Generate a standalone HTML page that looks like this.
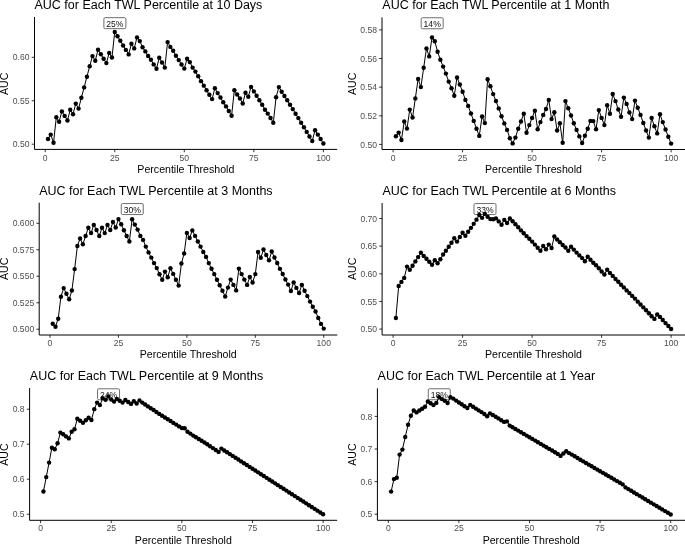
<!DOCTYPE html>
<html><head><meta charset="utf-8"><style>
html,body{margin:0;padding:0;background:#fff;}
body{width:685px;height:544px;overflow:hidden;}
svg{display:block;font-family:"Liberation Sans", sans-serif;will-change:transform;}
.ti{font-size:12.5px;fill:#000;}
.at{font-size:10.6px;fill:#000;}
.tl{font-size:8.6px;fill:#4d4d4d;}
.lt{font-size:8.6px;fill:#111;}
.tk{stroke:#333;stroke-width:1;}
.ax{stroke:#000;stroke-width:1;fill:none;}
.lb{fill:#fff;stroke:#6e6e6e;stroke-width:1;}
.ln{stroke:#000;stroke-width:1.0;fill:none;stroke-linejoin:round;}
.pt circle{fill:#000;}
</style></head><body>
<svg width="685" height="544" viewBox="0 0 685 544">
<rect width="685" height="544" fill="#fff"/>
<text x="34.5" y="9.45" class="ti">AUC for Each TWL Percentile at 10 Days</text>
<text transform="translate(7.7,83.85) rotate(-90)" class="at" text-anchor="middle">AUC</text>
<text x="185.85" y="172.6" class="at" text-anchor="middle">Percentile Threshold</text>
<line x1="31.7" x2="34.5" y1="144.2" y2="144.2" class="tk"/>
<text transform="translate(29.5,144.2) scale(1,1.08)" y="2.95" class="tl" text-anchor="end">0.50</text>
<line x1="31.7" x2="34.5" y1="100.75" y2="100.75" class="tk"/>
<text transform="translate(29.5,100.75) scale(1,1.08)" y="2.95" class="tl" text-anchor="end">0.55</text>
<line x1="31.7" x2="34.5" y1="57.3" y2="57.3" class="tk"/>
<text transform="translate(29.5,57.3) scale(1,1.08)" y="2.95" class="tl" text-anchor="end">0.60</text>
<line x1="45.19" x2="45.19" y1="149.4" y2="152.2" class="tk"/>
<text transform="translate(45.19,160.5) scale(1,1.03)" class="tl" text-anchor="middle">0</text>
<line x1="114.74" x2="114.74" y1="149.4" y2="152.2" class="tk"/>
<text transform="translate(114.74,160.5) scale(1,1.03)" class="tl" text-anchor="middle">25</text>
<line x1="184.29" x2="184.29" y1="149.4" y2="152.2" class="tk"/>
<text transform="translate(184.29,160.5) scale(1,1.03)" class="tl" text-anchor="middle">50</text>
<line x1="253.84" x2="253.84" y1="149.4" y2="152.2" class="tk"/>
<text transform="translate(253.84,160.5) scale(1,1.03)" class="tl" text-anchor="middle">75</text>
<line x1="323.39" x2="323.39" y1="149.4" y2="152.2" class="tk"/>
<text transform="translate(323.39,160.5) scale(1,1.03)" class="tl" text-anchor="middle">100</text>
<path d="M34.5,17V149.4H337.2" class="ax"/>
<rect x="103.89" y="17.65" width="22" height="11" rx="1.3" class="lb"/>
<text transform="translate(114.89,26.85) scale(1,1.08)" class="lt" text-anchor="middle">25%</text>
<path d="M47.97,139 L50.75,134.6 L53.54,142.75 L56.32,117.2 L59.1,121.8 L61.88,111.4 L64.66,115.9 L67.45,120.5 L70.23,109.8 L73.01,114.2 L75.79,103.6 L78.57,108.6 L81.36,97.8 L84.14,87.4 L86.92,76.8 L89.7,66.2 L92.48,56.1 L95.27,60.7 L98.05,49.8 L100.83,54.3 L103.61,58.8 L106.39,63.1 L109.18,52.9 L111.96,57.55 L114.74,32 L117.52,36.2 L120.3,40.8 L123.09,45.5 L125.87,49.9 L128.65,54.4 L131.43,43.8 L134.21,48.4 L137,37.4 L139.78,41.1 L142.56,47.2 L145.34,51.4 L148.12,56 L150.91,59.8 L153.69,64.4 L156.47,68.75 L159.25,57.65 L162.03,62.5 L164.82,67.6 L167.6,42.1 L170.38,46.9 L173.16,50.7 L175.94,55.7 L178.73,60.1 L181.51,64.5 L184.29,68.6 L187.07,58.8 L189.85,62.1 L192.64,67.6 L195.42,71.6 L198.2,76.3 L200.98,81.15 L203.76,85.65 L206.55,90.2 L209.33,94.8 L212.11,99.1 L214.89,88.2 L217.67,93.1 L220.46,97.5 L223.24,102.2 L226.02,106.4 L228.8,111 L231.58,115.7 L234.37,90.2 L237.15,94.5 L239.93,98.5 L242.71,103.45 L245.49,92.75 L248.28,96.75 L251.06,86.9 L253.84,91.4 L256.62,95.7 L259.4,100.3 L262.19,104.8 L264.97,109.7 L267.75,113.6 L270.53,118 L273.31,122.7 L276.1,97.2 L278.88,87.1 L281.66,91.7 L284.44,96 L287.22,100.3 L290.01,104.8 L292.79,109.1 L295.57,113.7 L298.35,118.1 L301.13,122.8 L303.92,127.2 L306.7,131.9 L309.48,136.5 L312.26,141 L315.04,130.2 L317.83,134.6 L320.61,139 L323.39,143.5" class="ln"/>
<g class="pt"><circle cx="47.97" cy="139" r="2.2"/><circle cx="50.75" cy="134.6" r="2.2"/><circle cx="53.54" cy="142.75" r="2.2"/><circle cx="56.32" cy="117.2" r="2.2"/><circle cx="59.1" cy="121.8" r="2.2"/><circle cx="61.88" cy="111.4" r="2.2"/><circle cx="64.66" cy="115.9" r="2.2"/><circle cx="67.45" cy="120.5" r="2.2"/><circle cx="70.23" cy="109.8" r="2.2"/><circle cx="73.01" cy="114.2" r="2.2"/><circle cx="75.79" cy="103.6" r="2.2"/><circle cx="78.57" cy="108.6" r="2.2"/><circle cx="81.36" cy="97.8" r="2.2"/><circle cx="84.14" cy="87.4" r="2.2"/><circle cx="86.92" cy="76.8" r="2.2"/><circle cx="89.7" cy="66.2" r="2.2"/><circle cx="92.48" cy="56.1" r="2.2"/><circle cx="95.27" cy="60.7" r="2.2"/><circle cx="98.05" cy="49.8" r="2.2"/><circle cx="100.83" cy="54.3" r="2.2"/><circle cx="103.61" cy="58.8" r="2.2"/><circle cx="106.39" cy="63.1" r="2.2"/><circle cx="109.18" cy="52.9" r="2.2"/><circle cx="111.96" cy="57.55" r="2.2"/><circle cx="114.74" cy="32" r="2.2"/><circle cx="117.52" cy="36.2" r="2.2"/><circle cx="120.3" cy="40.8" r="2.2"/><circle cx="123.09" cy="45.5" r="2.2"/><circle cx="125.87" cy="49.9" r="2.2"/><circle cx="128.65" cy="54.4" r="2.2"/><circle cx="131.43" cy="43.8" r="2.2"/><circle cx="134.21" cy="48.4" r="2.2"/><circle cx="137" cy="37.4" r="2.2"/><circle cx="139.78" cy="41.1" r="2.2"/><circle cx="142.56" cy="47.2" r="2.2"/><circle cx="145.34" cy="51.4" r="2.2"/><circle cx="148.12" cy="56" r="2.2"/><circle cx="150.91" cy="59.8" r="2.2"/><circle cx="153.69" cy="64.4" r="2.2"/><circle cx="156.47" cy="68.75" r="2.2"/><circle cx="159.25" cy="57.65" r="2.2"/><circle cx="162.03" cy="62.5" r="2.2"/><circle cx="164.82" cy="67.6" r="2.2"/><circle cx="167.6" cy="42.1" r="2.2"/><circle cx="170.38" cy="46.9" r="2.2"/><circle cx="173.16" cy="50.7" r="2.2"/><circle cx="175.94" cy="55.7" r="2.2"/><circle cx="178.73" cy="60.1" r="2.2"/><circle cx="181.51" cy="64.5" r="2.2"/><circle cx="184.29" cy="68.6" r="2.2"/><circle cx="187.07" cy="58.8" r="2.2"/><circle cx="189.85" cy="62.1" r="2.2"/><circle cx="192.64" cy="67.6" r="2.2"/><circle cx="195.42" cy="71.6" r="2.2"/><circle cx="198.2" cy="76.3" r="2.2"/><circle cx="200.98" cy="81.15" r="2.2"/><circle cx="203.76" cy="85.65" r="2.2"/><circle cx="206.55" cy="90.2" r="2.2"/><circle cx="209.33" cy="94.8" r="2.2"/><circle cx="212.11" cy="99.1" r="2.2"/><circle cx="214.89" cy="88.2" r="2.2"/><circle cx="217.67" cy="93.1" r="2.2"/><circle cx="220.46" cy="97.5" r="2.2"/><circle cx="223.24" cy="102.2" r="2.2"/><circle cx="226.02" cy="106.4" r="2.2"/><circle cx="228.8" cy="111" r="2.2"/><circle cx="231.58" cy="115.7" r="2.2"/><circle cx="234.37" cy="90.2" r="2.2"/><circle cx="237.15" cy="94.5" r="2.2"/><circle cx="239.93" cy="98.5" r="2.2"/><circle cx="242.71" cy="103.45" r="2.2"/><circle cx="245.49" cy="92.75" r="2.2"/><circle cx="248.28" cy="96.75" r="2.2"/><circle cx="251.06" cy="86.9" r="2.2"/><circle cx="253.84" cy="91.4" r="2.2"/><circle cx="256.62" cy="95.7" r="2.2"/><circle cx="259.4" cy="100.3" r="2.2"/><circle cx="262.19" cy="104.8" r="2.2"/><circle cx="264.97" cy="109.7" r="2.2"/><circle cx="267.75" cy="113.6" r="2.2"/><circle cx="270.53" cy="118" r="2.2"/><circle cx="273.31" cy="122.7" r="2.2"/><circle cx="276.1" cy="97.2" r="2.2"/><circle cx="278.88" cy="87.1" r="2.2"/><circle cx="281.66" cy="91.7" r="2.2"/><circle cx="284.44" cy="96" r="2.2"/><circle cx="287.22" cy="100.3" r="2.2"/><circle cx="290.01" cy="104.8" r="2.2"/><circle cx="292.79" cy="109.1" r="2.2"/><circle cx="295.57" cy="113.7" r="2.2"/><circle cx="298.35" cy="118.1" r="2.2"/><circle cx="301.13" cy="122.8" r="2.2"/><circle cx="303.92" cy="127.2" r="2.2"/><circle cx="306.7" cy="131.9" r="2.2"/><circle cx="309.48" cy="136.5" r="2.2"/><circle cx="312.26" cy="141" r="2.2"/><circle cx="315.04" cy="130.2" r="2.2"/><circle cx="317.83" cy="134.6" r="2.2"/><circle cx="320.61" cy="139" r="2.2"/><circle cx="323.39" cy="143.5" r="2.2"/></g>
<text x="382.3" y="9.45" class="ti">AUC for Each TWL Percentile at 1 Month</text>
<text transform="translate(355.5,83.85) rotate(-90)" class="at" text-anchor="middle">AUC</text>
<text x="533.45" y="172.7" class="at" text-anchor="middle">Percentile Threshold</text>
<line x1="379.2" x2="382" y1="144.4" y2="144.4" class="tk"/>
<text transform="translate(377,144.4) scale(1,1.08)" y="2.95" class="tl" text-anchor="end">0.50</text>
<line x1="379.2" x2="382" y1="115.8" y2="115.8" class="tk"/>
<text transform="translate(377,115.8) scale(1,1.08)" y="2.95" class="tl" text-anchor="end">0.52</text>
<line x1="379.2" x2="382" y1="87.15" y2="87.15" class="tk"/>
<text transform="translate(377,87.15) scale(1,1.08)" y="2.95" class="tl" text-anchor="end">0.54</text>
<line x1="379.2" x2="382" y1="58.5" y2="58.5" class="tk"/>
<text transform="translate(377,58.5) scale(1,1.08)" y="2.95" class="tl" text-anchor="end">0.56</text>
<line x1="379.2" x2="382" y1="29.9" y2="29.9" class="tk"/>
<text transform="translate(377,29.9) scale(1,1.08)" y="2.95" class="tl" text-anchor="end">0.58</text>
<line x1="393.1" x2="393.1" y1="149.5" y2="152.3" class="tk"/>
<text transform="translate(393.1,160.6) scale(1,1.03)" class="tl" text-anchor="middle">0</text>
<line x1="462.6" x2="462.6" y1="149.5" y2="152.3" class="tk"/>
<text transform="translate(462.6,160.6) scale(1,1.03)" class="tl" text-anchor="middle">25</text>
<line x1="532.1" x2="532.1" y1="149.5" y2="152.3" class="tk"/>
<text transform="translate(532.1,160.6) scale(1,1.03)" class="tl" text-anchor="middle">50</text>
<line x1="601.6" x2="601.6" y1="149.5" y2="152.3" class="tk"/>
<text transform="translate(601.6,160.6) scale(1,1.03)" class="tl" text-anchor="middle">75</text>
<line x1="671.1" x2="671.1" y1="149.5" y2="152.3" class="tk"/>
<text transform="translate(671.1,160.6) scale(1,1.03)" class="tl" text-anchor="middle">100</text>
<path d="M382,17.4V149.5H685.5" class="ax"/>
<rect x="421.17" y="17.75" width="22" height="11" rx="1.3" class="lb"/>
<text transform="translate(432.17,26.95) scale(1,1.08)" class="lt" text-anchor="middle">14%</text>
<path d="M395.88,136.3 L398.66,132.6 L401.44,140 L404.22,121.5 L407,128.6 L409.78,109.6 L412.56,117.5 L415.34,98.4 L418.12,79 L420.9,87.1 L423.68,67.8 L426.46,48.5 L429.24,56.4 L432.02,37.5 L434.8,41.2 L437.58,51.8 L440.36,59.7 L443.14,66.6 L445.92,73.6 L448.7,81.6 L451.48,88.2 L454.26,95.7 L457.04,77.5 L459.82,84.5 L462.6,91.7 L465.38,99.9 L468.16,105.9 L470.94,113.5 L473.72,120.9 L476.5,128.7 L479.28,135.9 L482.06,116.5 L484.84,123.1 L487.62,79.3 L490.4,86.3 L493.18,94.1 L495.96,101 L498.74,108.4 L501.52,116.25 L504.3,123.4 L507.08,129.9 L509.86,138.2 L512.64,143.4 L515.42,137.6 L518.2,128.7 L520.98,121.5 L523.76,113.7 L526.54,132.8 L529.32,125.1 L532.1,117.9 L534.88,110.7 L537.66,129.3 L540.44,122.1 L543.22,114.9 L546,109 L548.78,100 L551.56,119.1 L554.34,112.3 L557.12,130.5 L559.9,123.3 L562.68,142.7 L565.46,101.1 L568.24,108.3 L571.02,115.5 L573.8,123.3 L576.58,129.9 L579.36,136.4 L582.14,143 L584.92,135.8 L587.7,128.8 L590.48,120.9 L593.26,121.1 L596.04,129.3 L598.82,110.1 L601.6,117.9 L604.38,125.1 L607.16,105.3 L609.94,113.7 L612.72,94 L615.5,101.1 L618.28,109.5 L621.06,116.7 L623.84,97.6 L626.62,103.9 L629.4,112.5 L632.18,119.1 L634.96,100.6 L637.74,107.7 L640.52,114.9 L643.3,123 L646.08,130.5 L648.86,137.6 L651.64,117.9 L654.42,126.3 L657.2,133.4 L659.98,114.3 L662.76,122.1 L665.54,129.5 L668.32,136.7 L671.1,143.6" class="ln"/>
<g class="pt"><circle cx="395.88" cy="136.3" r="2.2"/><circle cx="398.66" cy="132.6" r="2.2"/><circle cx="401.44" cy="140" r="2.2"/><circle cx="404.22" cy="121.5" r="2.2"/><circle cx="407" cy="128.6" r="2.2"/><circle cx="409.78" cy="109.6" r="2.2"/><circle cx="412.56" cy="117.5" r="2.2"/><circle cx="415.34" cy="98.4" r="2.2"/><circle cx="418.12" cy="79" r="2.2"/><circle cx="420.9" cy="87.1" r="2.2"/><circle cx="423.68" cy="67.8" r="2.2"/><circle cx="426.46" cy="48.5" r="2.2"/><circle cx="429.24" cy="56.4" r="2.2"/><circle cx="432.02" cy="37.5" r="2.2"/><circle cx="434.8" cy="41.2" r="2.2"/><circle cx="437.58" cy="51.8" r="2.2"/><circle cx="440.36" cy="59.7" r="2.2"/><circle cx="443.14" cy="66.6" r="2.2"/><circle cx="445.92" cy="73.6" r="2.2"/><circle cx="448.7" cy="81.6" r="2.2"/><circle cx="451.48" cy="88.2" r="2.2"/><circle cx="454.26" cy="95.7" r="2.2"/><circle cx="457.04" cy="77.5" r="2.2"/><circle cx="459.82" cy="84.5" r="2.2"/><circle cx="462.6" cy="91.7" r="2.2"/><circle cx="465.38" cy="99.9" r="2.2"/><circle cx="468.16" cy="105.9" r="2.2"/><circle cx="470.94" cy="113.5" r="2.2"/><circle cx="473.72" cy="120.9" r="2.2"/><circle cx="476.5" cy="128.7" r="2.2"/><circle cx="479.28" cy="135.9" r="2.2"/><circle cx="482.06" cy="116.5" r="2.2"/><circle cx="484.84" cy="123.1" r="2.2"/><circle cx="487.62" cy="79.3" r="2.2"/><circle cx="490.4" cy="86.3" r="2.2"/><circle cx="493.18" cy="94.1" r="2.2"/><circle cx="495.96" cy="101" r="2.2"/><circle cx="498.74" cy="108.4" r="2.2"/><circle cx="501.52" cy="116.25" r="2.2"/><circle cx="504.3" cy="123.4" r="2.2"/><circle cx="507.08" cy="129.9" r="2.2"/><circle cx="509.86" cy="138.2" r="2.2"/><circle cx="512.64" cy="143.4" r="2.2"/><circle cx="515.42" cy="137.6" r="2.2"/><circle cx="518.2" cy="128.7" r="2.2"/><circle cx="520.98" cy="121.5" r="2.2"/><circle cx="523.76" cy="113.7" r="2.2"/><circle cx="526.54" cy="132.8" r="2.2"/><circle cx="529.32" cy="125.1" r="2.2"/><circle cx="532.1" cy="117.9" r="2.2"/><circle cx="534.88" cy="110.7" r="2.2"/><circle cx="537.66" cy="129.3" r="2.2"/><circle cx="540.44" cy="122.1" r="2.2"/><circle cx="543.22" cy="114.9" r="2.2"/><circle cx="546" cy="109" r="2.2"/><circle cx="548.78" cy="100" r="2.2"/><circle cx="551.56" cy="119.1" r="2.2"/><circle cx="554.34" cy="112.3" r="2.2"/><circle cx="557.12" cy="130.5" r="2.2"/><circle cx="559.9" cy="123.3" r="2.2"/><circle cx="562.68" cy="142.7" r="2.2"/><circle cx="565.46" cy="101.1" r="2.2"/><circle cx="568.24" cy="108.3" r="2.2"/><circle cx="571.02" cy="115.5" r="2.2"/><circle cx="573.8" cy="123.3" r="2.2"/><circle cx="576.58" cy="129.9" r="2.2"/><circle cx="579.36" cy="136.4" r="2.2"/><circle cx="582.14" cy="143" r="2.2"/><circle cx="584.92" cy="135.8" r="2.2"/><circle cx="587.7" cy="128.8" r="2.2"/><circle cx="590.48" cy="120.9" r="2.2"/><circle cx="593.26" cy="121.1" r="2.2"/><circle cx="596.04" cy="129.3" r="2.2"/><circle cx="598.82" cy="110.1" r="2.2"/><circle cx="601.6" cy="117.9" r="2.2"/><circle cx="604.38" cy="125.1" r="2.2"/><circle cx="607.16" cy="105.3" r="2.2"/><circle cx="609.94" cy="113.7" r="2.2"/><circle cx="612.72" cy="94" r="2.2"/><circle cx="615.5" cy="101.1" r="2.2"/><circle cx="618.28" cy="109.5" r="2.2"/><circle cx="621.06" cy="116.7" r="2.2"/><circle cx="623.84" cy="97.6" r="2.2"/><circle cx="626.62" cy="103.9" r="2.2"/><circle cx="629.4" cy="112.5" r="2.2"/><circle cx="632.18" cy="119.1" r="2.2"/><circle cx="634.96" cy="100.6" r="2.2"/><circle cx="637.74" cy="107.7" r="2.2"/><circle cx="640.52" cy="114.9" r="2.2"/><circle cx="643.3" cy="123" r="2.2"/><circle cx="646.08" cy="130.5" r="2.2"/><circle cx="648.86" cy="137.6" r="2.2"/><circle cx="651.64" cy="117.9" r="2.2"/><circle cx="654.42" cy="126.3" r="2.2"/><circle cx="657.2" cy="133.4" r="2.2"/><circle cx="659.98" cy="114.3" r="2.2"/><circle cx="662.76" cy="122.1" r="2.2"/><circle cx="665.54" cy="129.5" r="2.2"/><circle cx="668.32" cy="136.7" r="2.2"/><circle cx="671.1" cy="143.6" r="2.2"/></g>
<text x="39.2" y="194.6" class="ti">AUC for Each TWL Percentile at 3 Months</text>
<text transform="translate(7.7,268.85) rotate(-90)" class="at" text-anchor="middle">AUC</text>
<text x="188.25" y="358.2" class="at" text-anchor="middle">Percentile Threshold</text>
<line x1="36.4" x2="39.2" y1="329.2" y2="329.2" class="tk"/>
<text transform="translate(34.2,329.2) scale(1,1.08)" y="2.95" class="tl" text-anchor="end">0.500</text>
<line x1="36.4" x2="39.2" y1="302.75" y2="302.75" class="tk"/>
<text transform="translate(34.2,302.75) scale(1,1.08)" y="2.95" class="tl" text-anchor="end">0.525</text>
<line x1="36.4" x2="39.2" y1="276.25" y2="276.25" class="tk"/>
<text transform="translate(34.2,276.25) scale(1,1.08)" y="2.95" class="tl" text-anchor="end">0.550</text>
<line x1="36.4" x2="39.2" y1="249.8" y2="249.8" class="tk"/>
<text transform="translate(34.2,249.8) scale(1,1.08)" y="2.95" class="tl" text-anchor="end">0.575</text>
<line x1="36.4" x2="39.2" y1="223.3" y2="223.3" class="tk"/>
<text transform="translate(34.2,223.3) scale(1,1.08)" y="2.95" class="tl" text-anchor="end">0.600</text>
<line x1="50" x2="50" y1="335" y2="337.8" class="tk"/>
<text transform="translate(50,346.1) scale(1,1.03)" class="tl" text-anchor="middle">0</text>
<line x1="118.44" x2="118.44" y1="335" y2="337.8" class="tk"/>
<text transform="translate(118.44,346.1) scale(1,1.03)" class="tl" text-anchor="middle">25</text>
<line x1="186.88" x2="186.88" y1="335" y2="337.8" class="tk"/>
<text transform="translate(186.88,346.1) scale(1,1.03)" class="tl" text-anchor="middle">50</text>
<line x1="255.31" x2="255.31" y1="335" y2="337.8" class="tk"/>
<text transform="translate(255.31,346.1) scale(1,1.03)" class="tl" text-anchor="middle">75</text>
<line x1="323.75" x2="323.75" y1="335" y2="337.8" class="tk"/>
<text transform="translate(323.75,346.1) scale(1,1.03)" class="tl" text-anchor="middle">100</text>
<path d="M39.2,202.7V335H337.3" class="ax"/>
<rect x="121.28" y="203.55" width="22" height="11" rx="1.3" class="lb"/>
<text transform="translate(132.28,212.75) scale(1,1.08)" class="lt" text-anchor="middle">30%</text>
<path d="M52.74,323.7 L55.48,326.8 L58.21,318.7 L60.95,296.7 L63.69,288.1 L66.42,293.8 L69.16,299.3 L71.9,290.5 L74.64,269.1 L77.38,246 L80.11,238.5 L82.85,244.3 L85.59,236 L88.32,227.8 L91.06,233 L93.8,224.9 L96.54,230 L99.28,236 L102.01,227.8 L104.75,233.1 L107.49,224.9 L110.22,230 L112.96,222 L115.7,227.5 L118.44,219.1 L121.17,224.3 L123.91,230.3 L126.65,236 L129.39,241.5 L132.12,219.3 L134.86,224.6 L137.6,229.6 L140.34,235.9 L143.07,239.9 L145.81,246.6 L148.55,252.4 L151.29,257.6 L154.02,263.1 L156.76,268.1 L159.5,274.2 L162.24,279.7 L164.97,271.6 L167.71,277.2 L170.45,268.3 L173.19,273.9 L175.93,279.7 L178.66,285.6 L181.4,263.5 L184.14,253.5 L186.88,232.9 L189.61,238 L192.35,230.4 L195.09,235.9 L197.82,241.5 L200.56,246.6 L203.3,252 L206.04,256.9 L208.77,263.1 L211.51,268.8 L214.25,274.1 L216.99,279.8 L219.72,285.3 L222.46,290.8 L225.2,296.5 L227.94,287.6 L230.67,279.6 L233.41,284.9 L236.15,290.4 L238.89,268.6 L241.62,274.1 L244.36,279.6 L247.1,284.9 L249.84,277 L252.57,282.5 L255.31,274.1 L258.05,252 L260.79,257.8 L263.52,249.5 L266.26,255 L269,260.3 L271.74,251.5 L274.48,257.5 L277.21,263 L279.95,268.85 L282.69,274.05 L285.42,279.5 L288.16,284.6 L290.9,291 L293.64,282.4 L296.38,287.9 L299.11,293 L301.85,284.9 L304.59,290.7 L307.32,296.1 L310.06,301.6 L312.8,306.8 L315.54,311.5 L318.27,318 L321.01,323.9 L323.75,328.6" class="ln"/>
<g class="pt"><circle cx="52.74" cy="323.7" r="2.2"/><circle cx="55.48" cy="326.8" r="2.2"/><circle cx="58.21" cy="318.7" r="2.2"/><circle cx="60.95" cy="296.7" r="2.2"/><circle cx="63.69" cy="288.1" r="2.2"/><circle cx="66.42" cy="293.8" r="2.2"/><circle cx="69.16" cy="299.3" r="2.2"/><circle cx="71.9" cy="290.5" r="2.2"/><circle cx="74.64" cy="269.1" r="2.2"/><circle cx="77.38" cy="246" r="2.2"/><circle cx="80.11" cy="238.5" r="2.2"/><circle cx="82.85" cy="244.3" r="2.2"/><circle cx="85.59" cy="236" r="2.2"/><circle cx="88.32" cy="227.8" r="2.2"/><circle cx="91.06" cy="233" r="2.2"/><circle cx="93.8" cy="224.9" r="2.2"/><circle cx="96.54" cy="230" r="2.2"/><circle cx="99.28" cy="236" r="2.2"/><circle cx="102.01" cy="227.8" r="2.2"/><circle cx="104.75" cy="233.1" r="2.2"/><circle cx="107.49" cy="224.9" r="2.2"/><circle cx="110.22" cy="230" r="2.2"/><circle cx="112.96" cy="222" r="2.2"/><circle cx="115.7" cy="227.5" r="2.2"/><circle cx="118.44" cy="219.1" r="2.2"/><circle cx="121.17" cy="224.3" r="2.2"/><circle cx="123.91" cy="230.3" r="2.2"/><circle cx="126.65" cy="236" r="2.2"/><circle cx="129.39" cy="241.5" r="2.2"/><circle cx="132.12" cy="219.3" r="2.2"/><circle cx="134.86" cy="224.6" r="2.2"/><circle cx="137.6" cy="229.6" r="2.2"/><circle cx="140.34" cy="235.9" r="2.2"/><circle cx="143.07" cy="239.9" r="2.2"/><circle cx="145.81" cy="246.6" r="2.2"/><circle cx="148.55" cy="252.4" r="2.2"/><circle cx="151.29" cy="257.6" r="2.2"/><circle cx="154.02" cy="263.1" r="2.2"/><circle cx="156.76" cy="268.1" r="2.2"/><circle cx="159.5" cy="274.2" r="2.2"/><circle cx="162.24" cy="279.7" r="2.2"/><circle cx="164.97" cy="271.6" r="2.2"/><circle cx="167.71" cy="277.2" r="2.2"/><circle cx="170.45" cy="268.3" r="2.2"/><circle cx="173.19" cy="273.9" r="2.2"/><circle cx="175.93" cy="279.7" r="2.2"/><circle cx="178.66" cy="285.6" r="2.2"/><circle cx="181.4" cy="263.5" r="2.2"/><circle cx="184.14" cy="253.5" r="2.2"/><circle cx="186.88" cy="232.9" r="2.2"/><circle cx="189.61" cy="238" r="2.2"/><circle cx="192.35" cy="230.4" r="2.2"/><circle cx="195.09" cy="235.9" r="2.2"/><circle cx="197.82" cy="241.5" r="2.2"/><circle cx="200.56" cy="246.6" r="2.2"/><circle cx="203.3" cy="252" r="2.2"/><circle cx="206.04" cy="256.9" r="2.2"/><circle cx="208.77" cy="263.1" r="2.2"/><circle cx="211.51" cy="268.8" r="2.2"/><circle cx="214.25" cy="274.1" r="2.2"/><circle cx="216.99" cy="279.8" r="2.2"/><circle cx="219.72" cy="285.3" r="2.2"/><circle cx="222.46" cy="290.8" r="2.2"/><circle cx="225.2" cy="296.5" r="2.2"/><circle cx="227.94" cy="287.6" r="2.2"/><circle cx="230.67" cy="279.6" r="2.2"/><circle cx="233.41" cy="284.9" r="2.2"/><circle cx="236.15" cy="290.4" r="2.2"/><circle cx="238.89" cy="268.6" r="2.2"/><circle cx="241.62" cy="274.1" r="2.2"/><circle cx="244.36" cy="279.6" r="2.2"/><circle cx="247.1" cy="284.9" r="2.2"/><circle cx="249.84" cy="277" r="2.2"/><circle cx="252.57" cy="282.5" r="2.2"/><circle cx="255.31" cy="274.1" r="2.2"/><circle cx="258.05" cy="252" r="2.2"/><circle cx="260.79" cy="257.8" r="2.2"/><circle cx="263.52" cy="249.5" r="2.2"/><circle cx="266.26" cy="255" r="2.2"/><circle cx="269" cy="260.3" r="2.2"/><circle cx="271.74" cy="251.5" r="2.2"/><circle cx="274.48" cy="257.5" r="2.2"/><circle cx="277.21" cy="263" r="2.2"/><circle cx="279.95" cy="268.85" r="2.2"/><circle cx="282.69" cy="274.05" r="2.2"/><circle cx="285.42" cy="279.5" r="2.2"/><circle cx="288.16" cy="284.6" r="2.2"/><circle cx="290.9" cy="291" r="2.2"/><circle cx="293.64" cy="282.4" r="2.2"/><circle cx="296.38" cy="287.9" r="2.2"/><circle cx="299.11" cy="293" r="2.2"/><circle cx="301.85" cy="284.9" r="2.2"/><circle cx="304.59" cy="290.7" r="2.2"/><circle cx="307.32" cy="296.1" r="2.2"/><circle cx="310.06" cy="301.6" r="2.2"/><circle cx="312.8" cy="306.8" r="2.2"/><circle cx="315.54" cy="311.5" r="2.2"/><circle cx="318.27" cy="318" r="2.2"/><circle cx="321.01" cy="323.9" r="2.2"/><circle cx="323.75" cy="328.6" r="2.2"/></g>
<text x="382.5" y="194.6" class="ti">AUC for Each TWL Percentile at 6 Months</text>
<text transform="translate(355.5,268.85) rotate(-90)" class="at" text-anchor="middle">AUC</text>
<text x="533.5" y="358.2" class="at" text-anchor="middle">Percentile Threshold</text>
<line x1="379.3" x2="382.1" y1="329.1" y2="329.1" class="tk"/>
<text transform="translate(377.1,329.1) scale(1,1.08)" y="2.95" class="tl" text-anchor="end">0.50</text>
<line x1="379.3" x2="382.1" y1="301.45" y2="301.45" class="tk"/>
<text transform="translate(377.1,301.45) scale(1,1.08)" y="2.95" class="tl" text-anchor="end">0.55</text>
<line x1="379.3" x2="382.1" y1="273.8" y2="273.8" class="tk"/>
<text transform="translate(377.1,273.8) scale(1,1.08)" y="2.95" class="tl" text-anchor="end">0.60</text>
<line x1="379.3" x2="382.1" y1="246.15" y2="246.15" class="tk"/>
<text transform="translate(377.1,246.15) scale(1,1.08)" y="2.95" class="tl" text-anchor="end">0.65</text>
<line x1="379.3" x2="382.1" y1="218.5" y2="218.5" class="tk"/>
<text transform="translate(377.1,218.5) scale(1,1.08)" y="2.95" class="tl" text-anchor="end">0.70</text>
<line x1="393.1" x2="393.1" y1="335" y2="337.8" class="tk"/>
<text transform="translate(393.1,346.1) scale(1,1.03)" class="tl" text-anchor="middle">0</text>
<line x1="462.6" x2="462.6" y1="335" y2="337.8" class="tk"/>
<text transform="translate(462.6,346.1) scale(1,1.03)" class="tl" text-anchor="middle">25</text>
<line x1="532.1" x2="532.1" y1="335" y2="337.8" class="tk"/>
<text transform="translate(532.1,346.1) scale(1,1.03)" class="tl" text-anchor="middle">50</text>
<line x1="601.6" x2="601.6" y1="335" y2="337.8" class="tk"/>
<text transform="translate(601.6,346.1) scale(1,1.03)" class="tl" text-anchor="middle">75</text>
<line x1="671.1" x2="671.1" y1="335" y2="337.8" class="tk"/>
<text transform="translate(671.1,346.1) scale(1,1.03)" class="tl" text-anchor="middle">100</text>
<path d="M382.1,203V335H685.5" class="ax"/>
<rect x="473.99" y="203.55" width="22" height="11" rx="1.3" class="lb"/>
<text transform="translate(484.99,212.75) scale(1,1.08)" class="lt" text-anchor="middle">33%</text>
<path d="M395.88,318 L398.66,286 L401.44,281.9 L404.22,277.9 L407,266.6 L409.78,269.7 L412.56,265.7 L415.34,261.4 L418.12,257.1 L420.9,252.8 L423.68,255.9 L426.46,258.7 L429.24,261.7 L432.02,264.7 L434.8,260.3 L437.58,263.3 L440.36,259.2 L443.14,254.5 L445.92,250.8 L448.7,246.8 L451.48,242.7 L454.26,238.3 L457.04,241.6 L459.82,237 L462.6,232.8 L465.38,235.8 L468.16,231.8 L470.94,227.85 L473.72,223.85 L476.5,219.65 L479.28,215.05 L482.06,217.85 L484.84,213.9 L487.62,216.8 L490.4,219.1 L493.18,219.3 L495.96,218.4 L498.74,221.4 L501.52,224.8 L504.3,219.9 L507.08,223 L509.86,218.5 L512.64,221.2 L515.42,224.3 L518.2,227.3 L520.98,230.4 L523.76,233.3 L526.54,236.1 L529.32,238.8 L532.1,241.6 L534.88,244.6 L537.66,247.7 L540.44,250.8 L543.22,246 L546,249.2 L548.78,244.6 L551.56,248 L554.34,236.55 L557.12,239.45 L559.9,242.15 L562.68,245 L565.46,247.5 L568.24,250.8 L571.02,246.8 L573.8,249.6 L576.58,252.6 L579.36,255.4 L582.14,258.1 L584.92,261.3 L587.7,256.7 L590.48,259.7 L593.26,262.7 L596.04,265.3 L598.82,268.25 L601.6,271.5 L604.38,274.5 L607.16,269.8 L609.94,272.9 L612.72,275.9 L615.5,279 L618.28,281.7 L621.06,284.7 L623.84,287.4 L626.62,290.4 L629.4,293.1 L632.18,295.9 L634.96,298.6 L637.74,301.65 L640.52,304.5 L643.3,307.35 L646.08,310.3 L648.86,313.2 L651.64,316.2 L654.42,318.9 L657.2,314.5 L659.98,316.9 L662.76,320 L665.54,323.1 L668.32,326 L671.1,329" class="ln"/>
<g class="pt"><circle cx="395.88" cy="318" r="2.2"/><circle cx="398.66" cy="286" r="2.2"/><circle cx="401.44" cy="281.9" r="2.2"/><circle cx="404.22" cy="277.9" r="2.2"/><circle cx="407" cy="266.6" r="2.2"/><circle cx="409.78" cy="269.7" r="2.2"/><circle cx="412.56" cy="265.7" r="2.2"/><circle cx="415.34" cy="261.4" r="2.2"/><circle cx="418.12" cy="257.1" r="2.2"/><circle cx="420.9" cy="252.8" r="2.2"/><circle cx="423.68" cy="255.9" r="2.2"/><circle cx="426.46" cy="258.7" r="2.2"/><circle cx="429.24" cy="261.7" r="2.2"/><circle cx="432.02" cy="264.7" r="2.2"/><circle cx="434.8" cy="260.3" r="2.2"/><circle cx="437.58" cy="263.3" r="2.2"/><circle cx="440.36" cy="259.2" r="2.2"/><circle cx="443.14" cy="254.5" r="2.2"/><circle cx="445.92" cy="250.8" r="2.2"/><circle cx="448.7" cy="246.8" r="2.2"/><circle cx="451.48" cy="242.7" r="2.2"/><circle cx="454.26" cy="238.3" r="2.2"/><circle cx="457.04" cy="241.6" r="2.2"/><circle cx="459.82" cy="237" r="2.2"/><circle cx="462.6" cy="232.8" r="2.2"/><circle cx="465.38" cy="235.8" r="2.2"/><circle cx="468.16" cy="231.8" r="2.2"/><circle cx="470.94" cy="227.85" r="2.2"/><circle cx="473.72" cy="223.85" r="2.2"/><circle cx="476.5" cy="219.65" r="2.2"/><circle cx="479.28" cy="215.05" r="2.2"/><circle cx="482.06" cy="217.85" r="2.2"/><circle cx="484.84" cy="213.9" r="2.2"/><circle cx="487.62" cy="216.8" r="2.2"/><circle cx="490.4" cy="219.1" r="2.2"/><circle cx="493.18" cy="219.3" r="2.2"/><circle cx="495.96" cy="218.4" r="2.2"/><circle cx="498.74" cy="221.4" r="2.2"/><circle cx="501.52" cy="224.8" r="2.2"/><circle cx="504.3" cy="219.9" r="2.2"/><circle cx="507.08" cy="223" r="2.2"/><circle cx="509.86" cy="218.5" r="2.2"/><circle cx="512.64" cy="221.2" r="2.2"/><circle cx="515.42" cy="224.3" r="2.2"/><circle cx="518.2" cy="227.3" r="2.2"/><circle cx="520.98" cy="230.4" r="2.2"/><circle cx="523.76" cy="233.3" r="2.2"/><circle cx="526.54" cy="236.1" r="2.2"/><circle cx="529.32" cy="238.8" r="2.2"/><circle cx="532.1" cy="241.6" r="2.2"/><circle cx="534.88" cy="244.6" r="2.2"/><circle cx="537.66" cy="247.7" r="2.2"/><circle cx="540.44" cy="250.8" r="2.2"/><circle cx="543.22" cy="246" r="2.2"/><circle cx="546" cy="249.2" r="2.2"/><circle cx="548.78" cy="244.6" r="2.2"/><circle cx="551.56" cy="248" r="2.2"/><circle cx="554.34" cy="236.55" r="2.2"/><circle cx="557.12" cy="239.45" r="2.2"/><circle cx="559.9" cy="242.15" r="2.2"/><circle cx="562.68" cy="245" r="2.2"/><circle cx="565.46" cy="247.5" r="2.2"/><circle cx="568.24" cy="250.8" r="2.2"/><circle cx="571.02" cy="246.8" r="2.2"/><circle cx="573.8" cy="249.6" r="2.2"/><circle cx="576.58" cy="252.6" r="2.2"/><circle cx="579.36" cy="255.4" r="2.2"/><circle cx="582.14" cy="258.1" r="2.2"/><circle cx="584.92" cy="261.3" r="2.2"/><circle cx="587.7" cy="256.7" r="2.2"/><circle cx="590.48" cy="259.7" r="2.2"/><circle cx="593.26" cy="262.7" r="2.2"/><circle cx="596.04" cy="265.3" r="2.2"/><circle cx="598.82" cy="268.25" r="2.2"/><circle cx="601.6" cy="271.5" r="2.2"/><circle cx="604.38" cy="274.5" r="2.2"/><circle cx="607.16" cy="269.8" r="2.2"/><circle cx="609.94" cy="272.9" r="2.2"/><circle cx="612.72" cy="275.9" r="2.2"/><circle cx="615.5" cy="279" r="2.2"/><circle cx="618.28" cy="281.7" r="2.2"/><circle cx="621.06" cy="284.7" r="2.2"/><circle cx="623.84" cy="287.4" r="2.2"/><circle cx="626.62" cy="290.4" r="2.2"/><circle cx="629.4" cy="293.1" r="2.2"/><circle cx="632.18" cy="295.9" r="2.2"/><circle cx="634.96" cy="298.6" r="2.2"/><circle cx="637.74" cy="301.65" r="2.2"/><circle cx="640.52" cy="304.5" r="2.2"/><circle cx="643.3" cy="307.35" r="2.2"/><circle cx="646.08" cy="310.3" r="2.2"/><circle cx="648.86" cy="313.2" r="2.2"/><circle cx="651.64" cy="316.2" r="2.2"/><circle cx="654.42" cy="318.9" r="2.2"/><circle cx="657.2" cy="314.5" r="2.2"/><circle cx="659.98" cy="316.9" r="2.2"/><circle cx="662.76" cy="320" r="2.2"/><circle cx="665.54" cy="323.1" r="2.2"/><circle cx="668.32" cy="326" r="2.2"/><circle cx="671.1" cy="329" r="2.2"/></g>
<text x="29.8" y="379.9" class="ti">AUC for Each TWL Percentile at 9 Months</text>
<text transform="translate(7.7,454.55) rotate(-90)" class="at" text-anchor="middle">AUC</text>
<text x="183.35" y="543.5" class="at" text-anchor="middle">Percentile Threshold</text>
<line x1="26.8" x2="29.6" y1="514.2" y2="514.2" class="tk"/>
<text transform="translate(24.6,514.2) scale(1,1.08)" y="2.95" class="tl" text-anchor="end">0.5</text>
<line x1="26.8" x2="29.6" y1="479.2" y2="479.2" class="tk"/>
<text transform="translate(24.6,479.2) scale(1,1.08)" y="2.95" class="tl" text-anchor="end">0.6</text>
<line x1="26.8" x2="29.6" y1="444.2" y2="444.2" class="tk"/>
<text transform="translate(24.6,444.2) scale(1,1.08)" y="2.95" class="tl" text-anchor="end">0.7</text>
<line x1="26.8" x2="29.6" y1="409.2" y2="409.2" class="tk"/>
<text transform="translate(24.6,409.2) scale(1,1.08)" y="2.95" class="tl" text-anchor="end">0.8</text>
<line x1="40.6" x2="40.6" y1="520.3" y2="523.1" class="tk"/>
<text transform="translate(40.6,531.4) scale(1,1.03)" class="tl" text-anchor="middle">0</text>
<line x1="111.22" x2="111.22" y1="520.3" y2="523.1" class="tk"/>
<text transform="translate(111.22,531.4) scale(1,1.03)" class="tl" text-anchor="middle">25</text>
<line x1="181.85" x2="181.85" y1="520.3" y2="523.1" class="tk"/>
<text transform="translate(181.85,531.4) scale(1,1.03)" class="tl" text-anchor="middle">50</text>
<line x1="252.47" x2="252.47" y1="520.3" y2="523.1" class="tk"/>
<text transform="translate(252.47,531.4) scale(1,1.03)" class="tl" text-anchor="middle">75</text>
<line x1="323.1" x2="323.1" y1="520.3" y2="523.1" class="tk"/>
<text transform="translate(323.1,531.4) scale(1,1.03)" class="tl" text-anchor="middle">100</text>
<path d="M29.6,388.1V520.3H337.1" class="ax"/>
<rect x="97.55" y="388.8" width="22" height="11" rx="1.3" class="lb"/>
<text transform="translate(108.55,398) scale(1,1.08)" class="lt" text-anchor="middle">24%</text>
<path d="M43.43,491.5 L46.25,477.1 L49.08,462.6 L51.9,447.7 L54.73,449.2 L57.55,443.3 L60.38,432.6 L63.2,434.2 L66.03,436.4 L68.85,438.4 L71.68,431.8 L74.5,429.3 L77.33,418.7 L80.15,420.75 L82.97,422.85 L85.8,420.2 L88.62,417.7 L91.45,420 L94.28,409.15 L97.1,402.6 L99.93,405.1 L102.75,398.3 L105.58,399.8 L108.4,396.5 L111.22,399.5 L114.05,401.6 L116.88,398.9 L119.7,400.8 L122.53,402.6 L125.35,400 L128.18,402 L131,403.9 L133.83,401.3 L136.65,403.5 L139.47,400.4 L142.3,402.6 L145.12,404.5 L147.95,406.4 L150.78,408.2 L153.6,410 L156.43,412 L159.25,413.9 L162.08,415.7 L164.9,417.5 L167.73,419.2 L170.55,421 L173.38,422.9 L176.2,424.6 L179.03,426.4 L181.85,428 L184.68,428.2 L187.5,431.8 L190.33,433.6 L193.15,435.6 L195.97,437.2 L198.8,439 L201.62,440.7 L204.45,442.5 L207.28,444.3 L210.1,446.2 L212.93,448.1 L215.75,450 L218.58,451.9 L221.4,448.6 L224.22,450.43 L227.05,452.26 L229.88,454.09 L232.7,455.91 L235.53,457.74 L238.35,459.57 L241.18,461.4 L244,463.23 L246.83,465.06 L249.65,466.89 L252.47,468.71 L255.3,470.54 L258.12,472.37 L260.95,474.2 L263.78,476.03 L266.6,477.86 L269.43,479.69 L272.25,481.51 L275.08,483.34 L277.9,485.17 L280.73,487 L283.55,488.8 L286.38,490.62 L289.2,492.44 L292.03,494.26 L294.85,496.09 L297.68,497.91 L300.5,499.73 L303.33,501.55 L306.15,503.37 L308.98,505.19 L311.8,507.01 L314.63,508.84 L317.45,510.66 L320.28,512.48 L323.1,514.3" class="ln"/>
<g class="pt"><circle cx="43.43" cy="491.5" r="2.2"/><circle cx="46.25" cy="477.1" r="2.2"/><circle cx="49.08" cy="462.6" r="2.2"/><circle cx="51.9" cy="447.7" r="2.2"/><circle cx="54.73" cy="449.2" r="2.2"/><circle cx="57.55" cy="443.3" r="2.2"/><circle cx="60.38" cy="432.6" r="2.2"/><circle cx="63.2" cy="434.2" r="2.2"/><circle cx="66.03" cy="436.4" r="2.2"/><circle cx="68.85" cy="438.4" r="2.2"/><circle cx="71.68" cy="431.8" r="2.2"/><circle cx="74.5" cy="429.3" r="2.2"/><circle cx="77.33" cy="418.7" r="2.2"/><circle cx="80.15" cy="420.75" r="2.2"/><circle cx="82.97" cy="422.85" r="2.2"/><circle cx="85.8" cy="420.2" r="2.2"/><circle cx="88.62" cy="417.7" r="2.2"/><circle cx="91.45" cy="420" r="2.2"/><circle cx="94.28" cy="409.15" r="2.2"/><circle cx="97.1" cy="402.6" r="2.2"/><circle cx="99.93" cy="405.1" r="2.2"/><circle cx="102.75" cy="398.3" r="2.2"/><circle cx="105.58" cy="399.8" r="2.2"/><circle cx="108.4" cy="396.5" r="2.2"/><circle cx="111.22" cy="399.5" r="2.2"/><circle cx="114.05" cy="401.6" r="2.2"/><circle cx="116.88" cy="398.9" r="2.2"/><circle cx="119.7" cy="400.8" r="2.2"/><circle cx="122.53" cy="402.6" r="2.2"/><circle cx="125.35" cy="400" r="2.2"/><circle cx="128.18" cy="402" r="2.2"/><circle cx="131" cy="403.9" r="2.2"/><circle cx="133.83" cy="401.3" r="2.2"/><circle cx="136.65" cy="403.5" r="2.2"/><circle cx="139.47" cy="400.4" r="2.2"/><circle cx="142.3" cy="402.6" r="2.2"/><circle cx="145.12" cy="404.5" r="2.2"/><circle cx="147.95" cy="406.4" r="2.2"/><circle cx="150.78" cy="408.2" r="2.2"/><circle cx="153.6" cy="410" r="2.2"/><circle cx="156.43" cy="412" r="2.2"/><circle cx="159.25" cy="413.9" r="2.2"/><circle cx="162.08" cy="415.7" r="2.2"/><circle cx="164.9" cy="417.5" r="2.2"/><circle cx="167.73" cy="419.2" r="2.2"/><circle cx="170.55" cy="421" r="2.2"/><circle cx="173.38" cy="422.9" r="2.2"/><circle cx="176.2" cy="424.6" r="2.2"/><circle cx="179.03" cy="426.4" r="2.2"/><circle cx="181.85" cy="428" r="2.2"/><circle cx="184.68" cy="428.2" r="2.2"/><circle cx="187.5" cy="431.8" r="2.2"/><circle cx="190.33" cy="433.6" r="2.2"/><circle cx="193.15" cy="435.6" r="2.2"/><circle cx="195.97" cy="437.2" r="2.2"/><circle cx="198.8" cy="439" r="2.2"/><circle cx="201.62" cy="440.7" r="2.2"/><circle cx="204.45" cy="442.5" r="2.2"/><circle cx="207.28" cy="444.3" r="2.2"/><circle cx="210.1" cy="446.2" r="2.2"/><circle cx="212.93" cy="448.1" r="2.2"/><circle cx="215.75" cy="450" r="2.2"/><circle cx="218.58" cy="451.9" r="2.2"/><circle cx="221.4" cy="448.6" r="2.2"/><circle cx="224.22" cy="450.43" r="2.2"/><circle cx="227.05" cy="452.26" r="2.2"/><circle cx="229.88" cy="454.09" r="2.2"/><circle cx="232.7" cy="455.91" r="2.2"/><circle cx="235.53" cy="457.74" r="2.2"/><circle cx="238.35" cy="459.57" r="2.2"/><circle cx="241.18" cy="461.4" r="2.2"/><circle cx="244" cy="463.23" r="2.2"/><circle cx="246.83" cy="465.06" r="2.2"/><circle cx="249.65" cy="466.89" r="2.2"/><circle cx="252.47" cy="468.71" r="2.2"/><circle cx="255.3" cy="470.54" r="2.2"/><circle cx="258.12" cy="472.37" r="2.2"/><circle cx="260.95" cy="474.2" r="2.2"/><circle cx="263.78" cy="476.03" r="2.2"/><circle cx="266.6" cy="477.86" r="2.2"/><circle cx="269.43" cy="479.69" r="2.2"/><circle cx="272.25" cy="481.51" r="2.2"/><circle cx="275.08" cy="483.34" r="2.2"/><circle cx="277.9" cy="485.17" r="2.2"/><circle cx="280.73" cy="487" r="2.2"/><circle cx="283.55" cy="488.8" r="2.2"/><circle cx="286.38" cy="490.62" r="2.2"/><circle cx="289.2" cy="492.44" r="2.2"/><circle cx="292.03" cy="494.26" r="2.2"/><circle cx="294.85" cy="496.09" r="2.2"/><circle cx="297.68" cy="497.91" r="2.2"/><circle cx="300.5" cy="499.73" r="2.2"/><circle cx="303.33" cy="501.55" r="2.2"/><circle cx="306.15" cy="503.37" r="2.2"/><circle cx="308.98" cy="505.19" r="2.2"/><circle cx="311.8" cy="507.01" r="2.2"/><circle cx="314.63" cy="508.84" r="2.2"/><circle cx="317.45" cy="510.66" r="2.2"/><circle cx="320.28" cy="512.48" r="2.2"/><circle cx="323.1" cy="514.3" r="2.2"/></g>
<text x="377.6" y="379.9" class="ti">AUC for Each TWL Percentile at 1 Year</text>
<text transform="translate(355.5,454.55) rotate(-90)" class="at" text-anchor="middle">AUC</text>
<text x="531.15" y="543.5" class="at" text-anchor="middle">Percentile Threshold</text>
<line x1="374.6" x2="377.4" y1="514.2" y2="514.2" class="tk"/>
<text transform="translate(372.4,514.2) scale(1,1.08)" y="2.95" class="tl" text-anchor="end">0.5</text>
<line x1="374.6" x2="377.4" y1="481.6" y2="481.6" class="tk"/>
<text transform="translate(372.4,481.6) scale(1,1.08)" y="2.95" class="tl" text-anchor="end">0.6</text>
<line x1="374.6" x2="377.4" y1="449" y2="449" class="tk"/>
<text transform="translate(372.4,449) scale(1,1.08)" y="2.95" class="tl" text-anchor="end">0.7</text>
<line x1="374.6" x2="377.4" y1="416.4" y2="416.4" class="tk"/>
<text transform="translate(372.4,416.4) scale(1,1.08)" y="2.95" class="tl" text-anchor="end">0.8</text>
<line x1="388.3" x2="388.3" y1="520.3" y2="523.1" class="tk"/>
<text transform="translate(388.3,531.4) scale(1,1.03)" class="tl" text-anchor="middle">0</text>
<line x1="458.9" x2="458.9" y1="520.3" y2="523.1" class="tk"/>
<text transform="translate(458.9,531.4) scale(1,1.03)" class="tl" text-anchor="middle">25</text>
<line x1="529.5" x2="529.5" y1="520.3" y2="523.1" class="tk"/>
<text transform="translate(529.5,531.4) scale(1,1.03)" class="tl" text-anchor="middle">50</text>
<line x1="600.1" x2="600.1" y1="520.3" y2="523.1" class="tk"/>
<text transform="translate(600.1,531.4) scale(1,1.03)" class="tl" text-anchor="middle">75</text>
<line x1="670.7" x2="670.7" y1="520.3" y2="523.1" class="tk"/>
<text transform="translate(670.7,531.4) scale(1,1.03)" class="tl" text-anchor="middle">100</text>
<path d="M377.4,388.3V520.3H685.5" class="ax"/>
<rect x="428.28" y="388.75" width="22" height="11" rx="1.3" class="lb"/>
<text transform="translate(439.28,397.95) scale(1,1.08)" class="lt" text-anchor="middle">18%</text>
<path d="M391.12,491.6 L393.95,479.1 L396.77,477.7 L399.6,454.6 L402.42,449.6 L405.24,437 L408.07,424.8 L410.89,415.7 L413.72,410.5 L416.54,412.4 L419.36,410.5 L422.19,408.8 L425.01,406.8 L427.84,401.5 L430.66,403.2 L433.48,405.1 L436.31,402.9 L439.13,397.1 L441.96,399.1 L444.78,400.8 L447.6,403 L450.43,397.3 L453.25,398.6 L456.08,400.6 L458.9,402.5 L461.72,404.3 L464.55,406.2 L467.37,408 L470.2,404.9 L473.02,406.8 L475.84,408.6 L478.67,410.4 L481.49,412.1 L484.32,414 L487.14,416.3 L489.96,413.4 L492.79,415 L495.61,416.7 L498.44,418.4 L501.26,420.2 L504.08,421.9 L506.91,421.4 L509.73,425.6 L512.56,427.26 L515.38,428.93 L518.2,430.59 L521.03,432.26 L523.85,433.92 L526.68,435.59 L529.5,437.25 L532.32,438.92 L535.15,440.58 L537.97,442.25 L540.8,443.91 L543.62,445.58 L546.44,447.24 L549.27,448.91 L552.09,450.57 L554.92,452.24 L557.74,453.9 L560.56,455.9 L563.39,453.5 L566.21,451.3 L569.04,453.1 L571.86,454.6 L574.68,456.2 L577.51,458 L580.33,459.7 L583.16,461.35 L585.98,462.99 L588.8,464.64 L591.63,466.29 L594.45,467.93 L597.28,469.58 L600.1,471.23 L602.92,472.87 L605.75,474.52 L608.57,476.17 L611.4,477.81 L614.22,479.46 L617.04,481.11 L619.87,482.75 L622.69,484.4 L625.52,487.4 L628.34,489.09 L631.16,490.79 L633.99,492.48 L636.81,494.17 L639.64,495.87 L642.46,497.56 L645.28,499.26 L648.11,500.95 L650.93,502.64 L653.76,504.34 L656.58,506.03 L659.4,507.73 L662.23,509.42 L665.05,511.11 L667.88,512.81 L670.7,514.5" class="ln"/>
<g class="pt"><circle cx="391.12" cy="491.6" r="2.2"/><circle cx="393.95" cy="479.1" r="2.2"/><circle cx="396.77" cy="477.7" r="2.2"/><circle cx="399.6" cy="454.6" r="2.2"/><circle cx="402.42" cy="449.6" r="2.2"/><circle cx="405.24" cy="437" r="2.2"/><circle cx="408.07" cy="424.8" r="2.2"/><circle cx="410.89" cy="415.7" r="2.2"/><circle cx="413.72" cy="410.5" r="2.2"/><circle cx="416.54" cy="412.4" r="2.2"/><circle cx="419.36" cy="410.5" r="2.2"/><circle cx="422.19" cy="408.8" r="2.2"/><circle cx="425.01" cy="406.8" r="2.2"/><circle cx="427.84" cy="401.5" r="2.2"/><circle cx="430.66" cy="403.2" r="2.2"/><circle cx="433.48" cy="405.1" r="2.2"/><circle cx="436.31" cy="402.9" r="2.2"/><circle cx="439.13" cy="397.1" r="2.2"/><circle cx="441.96" cy="399.1" r="2.2"/><circle cx="444.78" cy="400.8" r="2.2"/><circle cx="447.6" cy="403" r="2.2"/><circle cx="450.43" cy="397.3" r="2.2"/><circle cx="453.25" cy="398.6" r="2.2"/><circle cx="456.08" cy="400.6" r="2.2"/><circle cx="458.9" cy="402.5" r="2.2"/><circle cx="461.72" cy="404.3" r="2.2"/><circle cx="464.55" cy="406.2" r="2.2"/><circle cx="467.37" cy="408" r="2.2"/><circle cx="470.2" cy="404.9" r="2.2"/><circle cx="473.02" cy="406.8" r="2.2"/><circle cx="475.84" cy="408.6" r="2.2"/><circle cx="478.67" cy="410.4" r="2.2"/><circle cx="481.49" cy="412.1" r="2.2"/><circle cx="484.32" cy="414" r="2.2"/><circle cx="487.14" cy="416.3" r="2.2"/><circle cx="489.96" cy="413.4" r="2.2"/><circle cx="492.79" cy="415" r="2.2"/><circle cx="495.61" cy="416.7" r="2.2"/><circle cx="498.44" cy="418.4" r="2.2"/><circle cx="501.26" cy="420.2" r="2.2"/><circle cx="504.08" cy="421.9" r="2.2"/><circle cx="506.91" cy="421.4" r="2.2"/><circle cx="509.73" cy="425.6" r="2.2"/><circle cx="512.56" cy="427.26" r="2.2"/><circle cx="515.38" cy="428.93" r="2.2"/><circle cx="518.2" cy="430.59" r="2.2"/><circle cx="521.03" cy="432.26" r="2.2"/><circle cx="523.85" cy="433.92" r="2.2"/><circle cx="526.68" cy="435.59" r="2.2"/><circle cx="529.5" cy="437.25" r="2.2"/><circle cx="532.32" cy="438.92" r="2.2"/><circle cx="535.15" cy="440.58" r="2.2"/><circle cx="537.97" cy="442.25" r="2.2"/><circle cx="540.8" cy="443.91" r="2.2"/><circle cx="543.62" cy="445.58" r="2.2"/><circle cx="546.44" cy="447.24" r="2.2"/><circle cx="549.27" cy="448.91" r="2.2"/><circle cx="552.09" cy="450.57" r="2.2"/><circle cx="554.92" cy="452.24" r="2.2"/><circle cx="557.74" cy="453.9" r="2.2"/><circle cx="560.56" cy="455.9" r="2.2"/><circle cx="563.39" cy="453.5" r="2.2"/><circle cx="566.21" cy="451.3" r="2.2"/><circle cx="569.04" cy="453.1" r="2.2"/><circle cx="571.86" cy="454.6" r="2.2"/><circle cx="574.68" cy="456.2" r="2.2"/><circle cx="577.51" cy="458" r="2.2"/><circle cx="580.33" cy="459.7" r="2.2"/><circle cx="583.16" cy="461.35" r="2.2"/><circle cx="585.98" cy="462.99" r="2.2"/><circle cx="588.8" cy="464.64" r="2.2"/><circle cx="591.63" cy="466.29" r="2.2"/><circle cx="594.45" cy="467.93" r="2.2"/><circle cx="597.28" cy="469.58" r="2.2"/><circle cx="600.1" cy="471.23" r="2.2"/><circle cx="602.92" cy="472.87" r="2.2"/><circle cx="605.75" cy="474.52" r="2.2"/><circle cx="608.57" cy="476.17" r="2.2"/><circle cx="611.4" cy="477.81" r="2.2"/><circle cx="614.22" cy="479.46" r="2.2"/><circle cx="617.04" cy="481.11" r="2.2"/><circle cx="619.87" cy="482.75" r="2.2"/><circle cx="622.69" cy="484.4" r="2.2"/><circle cx="625.52" cy="487.4" r="2.2"/><circle cx="628.34" cy="489.09" r="2.2"/><circle cx="631.16" cy="490.79" r="2.2"/><circle cx="633.99" cy="492.48" r="2.2"/><circle cx="636.81" cy="494.17" r="2.2"/><circle cx="639.64" cy="495.87" r="2.2"/><circle cx="642.46" cy="497.56" r="2.2"/><circle cx="645.28" cy="499.26" r="2.2"/><circle cx="648.11" cy="500.95" r="2.2"/><circle cx="650.93" cy="502.64" r="2.2"/><circle cx="653.76" cy="504.34" r="2.2"/><circle cx="656.58" cy="506.03" r="2.2"/><circle cx="659.4" cy="507.73" r="2.2"/><circle cx="662.23" cy="509.42" r="2.2"/><circle cx="665.05" cy="511.11" r="2.2"/><circle cx="667.88" cy="512.81" r="2.2"/><circle cx="670.7" cy="514.5" r="2.2"/></g>
</svg>
</body></html>
